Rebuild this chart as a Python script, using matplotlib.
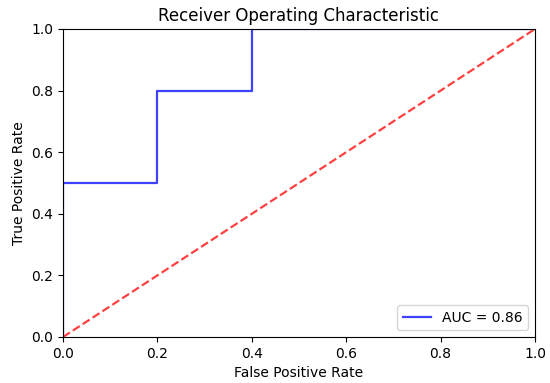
import matplotlib
matplotlib.use("Agg")
import matplotlib.pyplot as plt

fpr = [0.0, 0.0, 0.2, 0.2, 0.4, 0.4, 1.0]
tpr = [0.0, 0.5, 0.5, 0.8, 0.8, 1.0, 1.0]
diag = [0.0, 1.0]
roc_auc = 0.86

fig = plt.figure(figsize=(5.5, 3.83), dpi=100)
ax = fig.add_axes([63/550, 1 - 337/383, (535-63)/550, (337-29)/383])
ax.plot(fpr, tpr, color='blue', alpha=0.75, lw=1.6, label='AUC = %0.2f' % roc_auc)
ax.plot(diag, diag, color='red', alpha=0.75, ls='--', lw=1.6)
ax.set_xlim(0, 1)
ax.set_ylim(0, 1)
ax.set_title('Receiver Operating Characteristic', fontsize=12)
ax.set_xlabel('False Positive Rate', fontsize=10)
ax.set_ylabel('True Positive Rate', fontsize=10)
ax.tick_params(labelsize=10)
ax.legend(loc='lower right', fontsize=10)
fig.savefig('out.png', dpi=100)
